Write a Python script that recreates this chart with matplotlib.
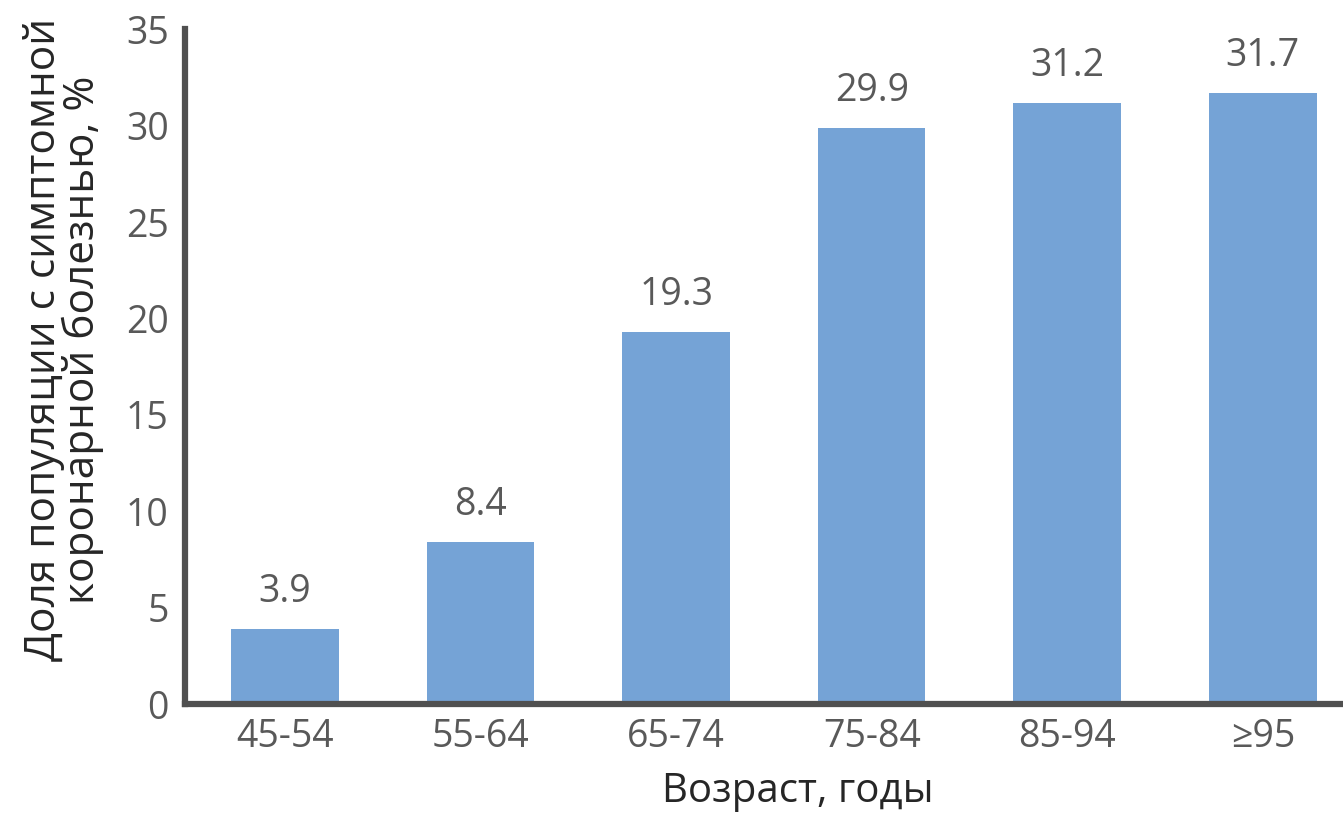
import matplotlib.pyplot as plt

ages = ['45-54', '55-64', '65-74', '75-84', '85-94', '≥95']
share = [3.9, 8.4, 19.3, 29.9, 31.2, 31.7]
yticks = [0, 5, 10, 15, 20, 25, 30, 35]

plt.rcParams['font.family'] = ['Open Sans', 'DejaVu Sans']
grey = '#595959'

fig = plt.figure(figsize=(13.43, 8.14), dpi=100)
ax = fig.add_axes([0.138, 0.135, 0.862, 0.829])

x = range(len(ages))
bars = ax.bar(x, share, width=0.55, color='#75A3D6', zorder=2)
for b, v in zip(bars, share):
    ax.annotate(str(v), (b.get_x() + b.get_width() / 2, v), xytext=(0, 13),
                textcoords='offset points', ha='center', va='bottom',
                fontsize=27, color=grey)

ax.set_xlim(-0.51, 5.41)
ax.set_ylim(0, 35)
ax.set_yticks(yticks)
ax.set_xticks(list(x))
ax.set_xticklabels(ages)
ax.tick_params(length=0, labelsize=27, labelcolor=grey, pad=12)
ax.tick_params(axis='x', pad=10)

for s in ['top', 'right']:
    ax.spines[s].set_visible(False)
for s in ['left', 'bottom']:
    ax.spines[s].set_linewidth(4.5)
    ax.spines[s].set_color('#505050')

ax.set_xlabel('Возраст, годы', fontsize=29, color='#262626')
ax.set_ylabel('Доля популяции с симптомной\nкоронарной болезнью, %', fontsize=30.5,
              color='#262626', linespacing=0.92)
ax.xaxis.set_label_coords(0.529, -0.1)
ax.yaxis.set_label_coords(-0.07, 0.54)

fig.savefig('out.png', dpi=100)
